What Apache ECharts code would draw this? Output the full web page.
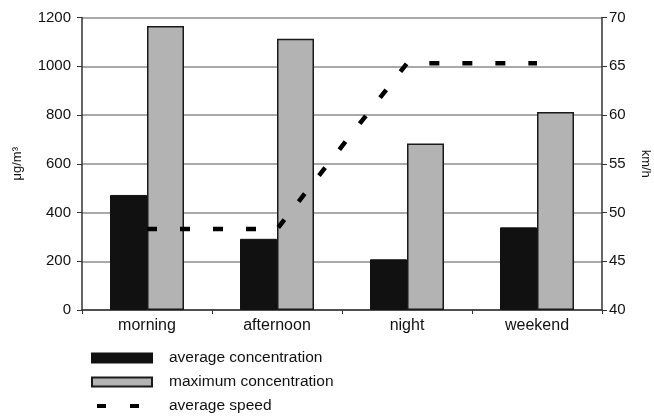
<!DOCTYPE html>
<html>
<head>
<meta charset="utf-8">
<script src="https://cdn.jsdelivr.net/npm/echarts@6/dist/echarts.min.js"></script>
<style>
html,body{margin:0;padding:0;background:#fff;}
#chart{width:654px;height:418px;}
</style>
</head>
<body>
<div id="chart"></div>
<script>
var categories = ['morning', 'afternoon', 'night', 'weekend'];
var averageConcentration = [472, 292, 208, 339];
var maximumConcentration = [1165, 1113, 683, 812];
var averageSpeed = [48.3, 48.3, 65.3, 65.3];
var leftTicks = { min: 0, max: 1200, interval: 200 };
var rightTicks = { min: 40, max: 70, interval: 5 };
var seriesNames = ['average concentration', 'maximum concentration', 'average speed'];

var FONT = 'Liberation Sans, Arial, sans-serif';
var chart = echarts.init(document.getElementById('chart'), null, { renderer: 'canvas' });
chart.setOption({
  backgroundColor: '#ffffff',
  animation: false,
  textStyle: { fontFamily: FONT, color: '#111' },
  grid: { left: 82, right: 52, top: 17.5, bottom: 108, containLabel: false, outerBoundsMode: 'none' },
  legend: {
    orient: 'vertical',
    left: 90,
    top: 350,
    padding: 0,
    itemWidth: 60,
    itemHeight: 9,
    itemGap: 8,
    textStyle: { fontFamily: FONT, fontSize: 15.5, color: '#111', padding: [0, 0, 0, 12] },
    data: [
      { name: seriesNames[0], icon: 'rect' },
      { name: seriesNames[1], icon: 'rect' },
      { name: seriesNames[2], itemStyle: { color: 'rgba(0,0,0,0)', borderWidth: 0 },
        lineStyle: { type: [9, 24], dashOffset: -5, width: 4, color: '#000' } }
    ]
  },
  xAxis: {
    type: 'category',
    data: categories,
    axisLine: { lineStyle: { color: '#333', width: 1.5 } },
    axisTick: { show: true, length: 4, lineStyle: { color: '#333', width: 1 } },
    axisLabel: { fontFamily: FONT, fontSize: 16, color: '#111', margin: 8 },
    splitLine: { show: false }
  },
  yAxis: [
    {
      type: 'value',
      min: leftTicks.min, max: leftTicks.max, interval: leftTicks.interval,
      name: 'μg/m³',
      nameLocation: 'middle',
      nameGap: 58,
      nameTextStyle: { fontFamily: FONT, fontSize: 13, color: '#111' },
      axisLine: { show: true, lineStyle: { color: '#333', width: 1.5 } },
      axisTick: { show: true, length: 5, lineStyle: { color: '#333', width: 1 } },
      axisLabel: { fontFamily: FONT, fontSize: 15, color: '#111', margin: 11, formatter: function (v) { return String(v); } },
      splitLine: { show: true, lineStyle: { color: '#8c8c8c', width: 1.5 } }
    },
    {
      type: 'value',
      position: 'right',
      min: rightTicks.min, max: rightTicks.max, interval: rightTicks.interval,
      name: 'km/h',
      nameLocation: 'middle',
      nameGap: 37,
      nameRotate: -90,
      nameTextStyle: { fontFamily: FONT, fontSize: 13, color: '#111' },
      axisLine: { show: true, lineStyle: { color: '#333', width: 1.5 } },
      axisTick: { show: true, length: 5, lineStyle: { color: '#333', width: 1 } },
      axisLabel: { fontFamily: FONT, fontSize: 15, color: '#111', margin: 7, formatter: function (v) { return String(v); } },
      splitLine: { show: false }
    }
  ],
  series: [
    {
      name: seriesNames[0],
      type: 'bar',
      data: averageConcentration,
      barWidth: 37,
      barGap: '0%',
      itemStyle: { color: '#111111', borderColor: '#111111', borderWidth: 1 },
      z: 2
    },
    {
      name: seriesNames[1],
      type: 'bar',
      data: maximumConcentration,
      barWidth: 37,
      barGap: '0%',
      itemStyle: { color: '#b3b3b3', borderColor: '#1a1a1a', borderWidth: 1.5 },
      z: 2
    },
    {
      name: seriesNames[2],
      type: 'line',
      yAxisIndex: 1,
      data: averageSpeed,
      symbol: 'none',
      lineStyle: { color: '#000', width: 4.5, type: [10, 23], cap: 'butt' },
      itemStyle: { color: '#000' },
      z: 5
    }
  ]
});
</script>
</body>
</html>
